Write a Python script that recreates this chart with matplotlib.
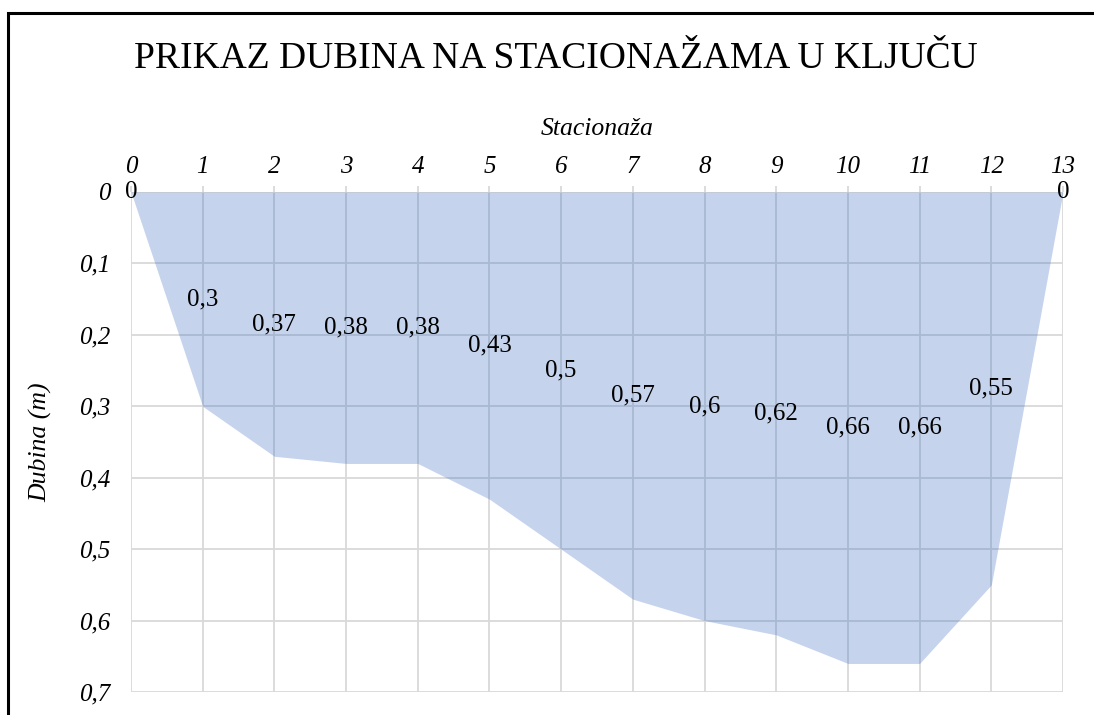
import matplotlib
matplotlib.use("Agg")
import matplotlib.pyplot as plt
from matplotlib.ticker import FuncFormatter, MultipleLocator
from matplotlib.patches import Rectangle

stations = [0, 1, 2, 3, 4, 5, 6, 7, 8, 9, 10, 11, 12, 13]
depths = [0, 0.3, 0.37, 0.38, 0.38, 0.43, 0.5, 0.57, 0.6, 0.62, 0.66, 0.66, 0.55, 0]
title = "PRIKAZ DUBINA NA STACIONAŽAMA U KLJUČU"
xlabel = "Stacionaža"
ylabel = "Dubina (m)"

plt.rcParams['font.family'] = ['Liberation Serif', 'DejaVu Serif']

fig = plt.figure(figsize=(10.94, 7.15), dpi=100)
ax = fig.add_axes([131/1094, 1-692/715, (1063-131)/1094, (692-192)/715])

grid_c = '#D9D9D9'
ax.fill_between(stations, 0, depths, color='#4472C4', alpha=0.31, linewidth=0, zorder=2)
ax.set_xlim(0, 13)
ax.set_ylim(0.7, 0)
ax.xaxis.set_major_locator(MultipleLocator(1))
ax.yaxis.set_major_locator(MultipleLocator(0.1))
ax.xaxis.tick_top()
ax.xaxis.set_label_position('top')
ax.grid(True, color=grid_c, linewidth=1.3, zorder=1)
ax.set_axisbelow(True)
for s in ax.spines.values():
    s.set_visible(False)

def fmt(v, pos):
    s = f"{v:.1f}".rstrip('0').rstrip('.') if v != 0 else "0"
    return s.replace('.', ',')
ax.yaxis.set_major_formatter(FuncFormatter(fmt))
ax.xaxis.set_major_formatter(FuncFormatter(lambda v, p: f"{int(round(v))}"))
ax.tick_params(labelsize=18)
ax.tick_params(axis='x', length=4.5, width=1.3, color=grid_c, direction='out', pad=5.4)
ax.tick_params(axis='y', length=0, pad=15)
for lab in ax.get_xticklabels() + ax.get_yticklabels():
    lab.set_fontstyle('italic')

ax.set_xlabel(xlabel, fontsize=18.5, fontstyle='italic', labelpad=15)
ax.set_ylabel(ylabel, fontsize=18.5, fontstyle='italic', labelpad=19)

for x, d in zip(stations, depths):
    lbl = ("%g" % d).replace('.', ',')
    ax.text(x, d/2, lbl, ha='center', va='center', fontsize=18, zorder=5, clip_on=False)

fig.text(556/1094, 1-59/715, title, ha='center', va='center', fontsize=27)

fig.patches.append(Rectangle((8/1094, -0.1), 1.2, 1-13/715+0.1, transform=fig.transFigure,
                             fill=False, edgecolor='black', linewidth=2.2, zorder=10))

fig.savefig('out.png', dpi=100)
